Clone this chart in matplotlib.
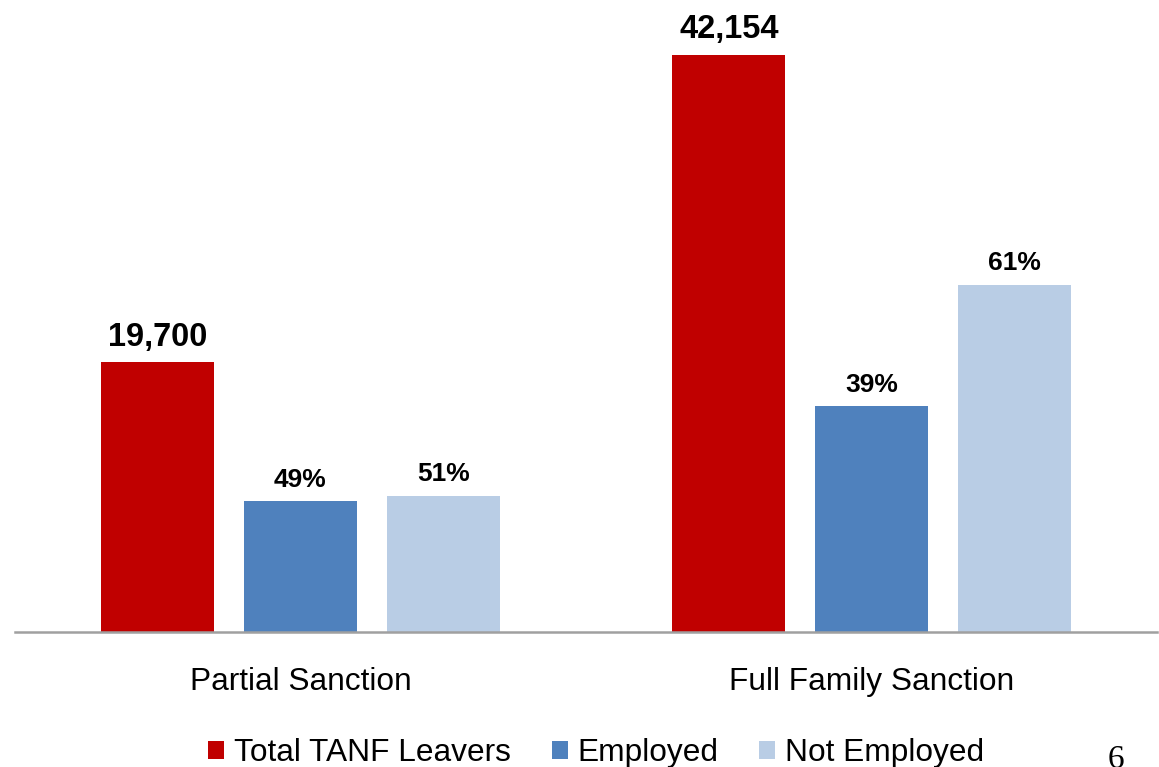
import matplotlib
matplotlib.use("Agg")
import matplotlib.pyplot as plt
from matplotlib.patches import Patch
import numpy as np

plt.rcParams['font.family'] = ['Liberation Sans', 'DejaVu Sans']

categories = ["Partial Sanction", "Full Family Sanction"]
total_leavers = [19700, 42154]
employed_count = [9570, 16510]
not_employed_count = [9960, 25350]
employed_pct = [49, 39]
not_employed_pct = [51, 61]
series_names = ["Total TANF Leavers", "Employed", "Not Employed"]
colors = ["#C00000", "#4F81BD", "#B9CDE5"]

W, H = 1159, 767
fig = plt.figure(figsize=(W / 100, H / 100), dpi=100)
ax = fig.add_axes([15 / W, (H - 632) / H, (1157 - 15) / W, (632 - 20) / H])

x = np.arange(len(categories))
bw = 0.198
step = 0.25
series = [total_leavers, employed_count, not_employed_count]
labels = [[f"{v:,}" for v in total_leavers],
          [f"{p}%" for p in employed_pct],
          [f"{p}%" for p in not_employed_pct]]
sizes = [23.5, 19, 19]
offsets = [7, 6.5, 7]
for i, (vals, col) in enumerate(zip(series, colors)):
    bars = ax.bar(x + (i - 1) * step, vals, width=bw, color=col, label=series_names[i], zorder=2)
    for b, lab in zip(bars, labels[i]):
        ax.annotate(lab, (b.get_x() + b.get_width() / 2, b.get_height()),
                    xytext=(0, offsets[i]), textcoords="offset points", ha="center", va="bottom",
                    fontsize=sizes[i], fontweight="bold", color="black")

ax.set_xlim(-0.5, 1.5)
ax.set_ylim(0, 612 * 42154 / 577)
ax.set_xticks(x)
ax.set_xticklabels(categories, fontsize=22.8)
ax.tick_params(axis="x", length=0, pad=25)
ax.set_yticks([])
for s in ["top", "right", "left"]:
    ax.spines[s].set_visible(False)
ax.spines["bottom"].set_color("#A0A0A0")
ax.spines["bottom"].set_linewidth(1.8)

handles = [Patch(facecolor=c, label=n) for c, n in zip(colors, series_names)]
fig.legend(handles=handles, loc="center", bbox_to_anchor=(596 / W, 1 - 753 / H),
           ncol=3, frameon=False, fontsize=22.8, handlelength=0.5, handleheight=0.5,
           handletextpad=0.3, columnspacing=1.3)

fig.text(1116 / W, 1 - 767.5 / H, "6", fontsize=24, family=["Liberation Serif", "DejaVu Serif"],
         ha="center", va="baseline")

fig.savefig("out.png", dpi=100)
